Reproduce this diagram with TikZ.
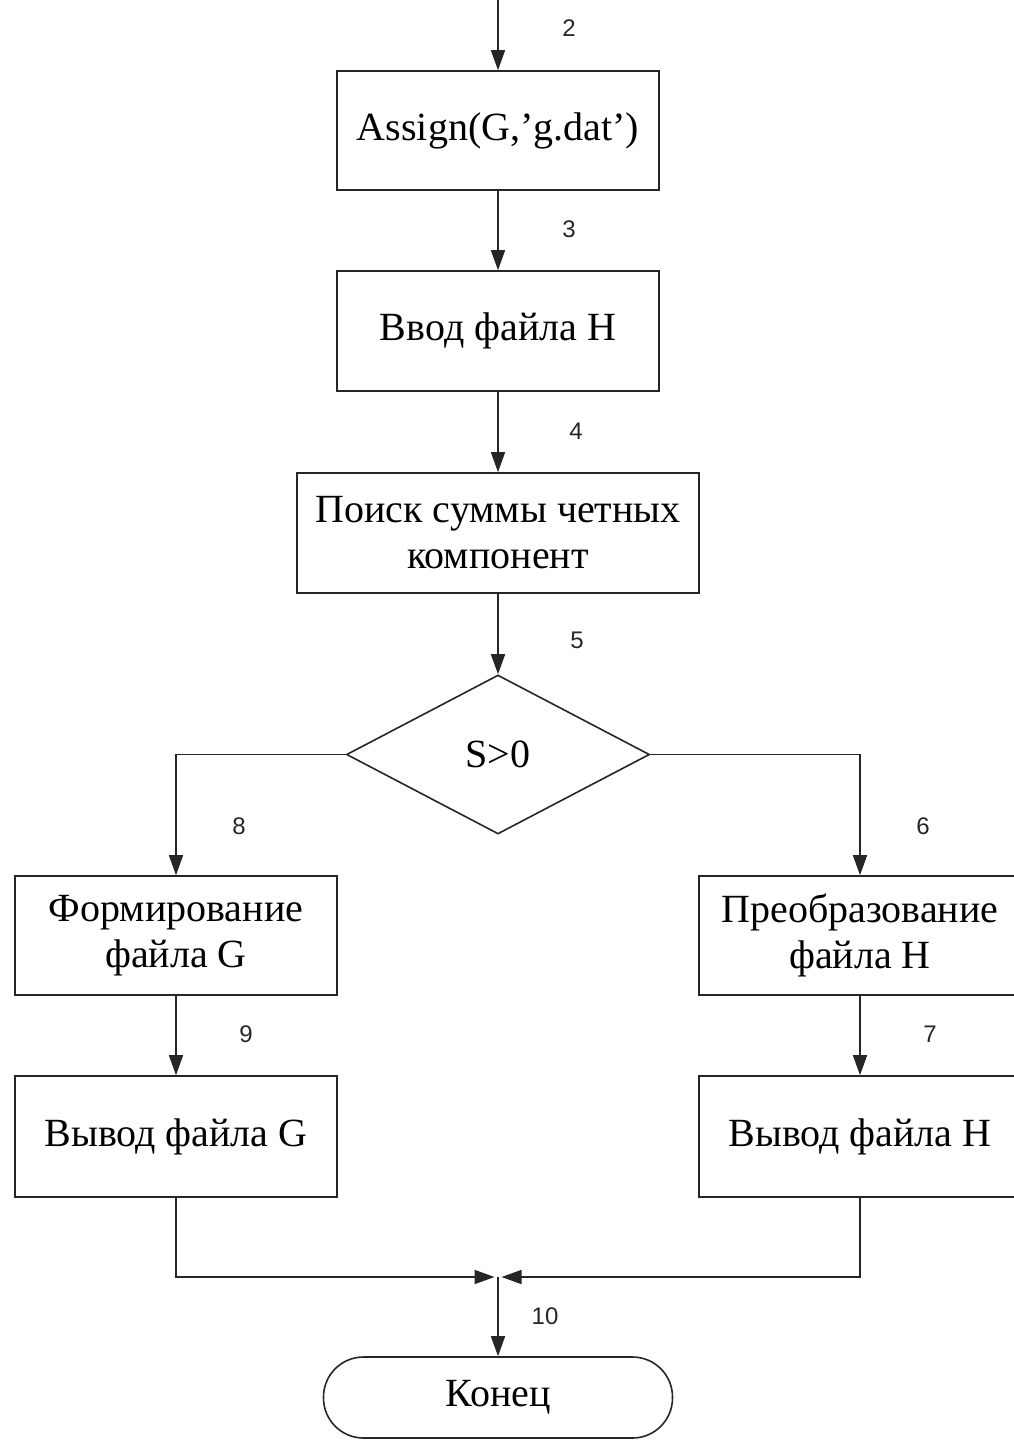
\documentclass[tikz,border=0pt]{standalone}
\usepackage{fontspec}
\setmainfont{Liberation Serif}
\newfontfamily\numfont{Liberation Sans}
\usetikzlibrary{arrows.meta,shapes.geometric}

\tikzset{
  line/.style={draw=black!85, line width=1.6pt},
  flow/.style={line, -{Triangle[length=20pt,width=14pt]}},
  block/.style={line, rectangle, inner sep=0pt, align=center,
    font=\fontsize{40}{46}\selectfont},
  decide/.style={line, diamond, inner sep=0pt,
    font=\fontsize{40}{46}\selectfont},
  term/.style={line, rectangle, rounded corners=40pt, inner sep=0pt,
    font=\fontsize{40}{46}\selectfont},
  num/.style={font=\numfont\fontsize{24}{28}\selectfont, text=black!85}
}

\begin{document}
\begin{tikzpicture}[x=1pt, y=-1pt]
  \useasboundingbox (0,0) rectangle (1014,1440);

  % entry point
  \coordinate (top) at (498,0);

  % main column
  \node[block, minimum width=322pt, minimum height=119pt] (assign) at (498,130.5) {Assign(G,’g.dat’)};
  \node[block, minimum width=322pt, minimum height=120pt] (input) at (498,331) {Ввод файла Н};
  \node[block, minimum width=402pt, minimum height=120pt] (sum) at (498,533) {Поиск суммы четных\\компонент};
  \node[decide, minimum width=303pt, minimum height=159pt] (cond) at (498,754.5) {S>0};

  % branches
  \node[block, minimum width=322pt, minimum height=119pt] (formG) at (176,935.5) {Формирование\\файла G};
  \node[block, minimum width=322pt, minimum height=121pt] (outG) at (176,1136.5) {Вывод файла G};
  \node[block, minimum width=322pt, minimum height=119pt] (convH) at (860,935.5) {Преобразование\\файла Н};
  \node[block, minimum width=322pt, minimum height=121pt] (outH) at (860,1136.5) {Вывод файла Н};

  % end
  \node[term, minimum width=349pt, minimum height=81pt] (end) at (498,1397.5) {Конец};
  \coordinate (merge) at (498,1277);

  % connectors
  \draw[flow] (top) -- (top |- assign.north);
  \draw[flow] (assign) -- (input);
  \draw[flow] (input) -- (sum);
  \draw[flow] (sum) -- (cond);
  \draw[flow] (cond.west) -| (formG.north);
  \draw[flow] (cond.east) -| (convH.north);
  \draw[flow] (formG) -- (outG);
  \draw[flow] (convH) -- (outH);
  \draw[flow, shorten >=3.5pt] (outG.south) |- (merge);
  \draw[flow, shorten >=3.5pt] (outH.south) |- (merge);
  \draw[flow] (merge) -- (end.north);

  % connector numbers
  \node[num] (n2) at (569,28) {2};
  \node[num] (n3) at (569,229) {3};
  \node[num] (n4) at (576,431) {4};
  \node[num] (n5) at (577,640) {5};
  \node[num] (n8) at (239,826) {8};
  \node[num] (n6) at (923,826) {6};
  \node[num] (n9) at (246,1034) {9};
  \node[num] (n7) at (930,1034) {7};
  \node[num] (n10) at (545,1316) {10};
\end{tikzpicture}
\end{document}
